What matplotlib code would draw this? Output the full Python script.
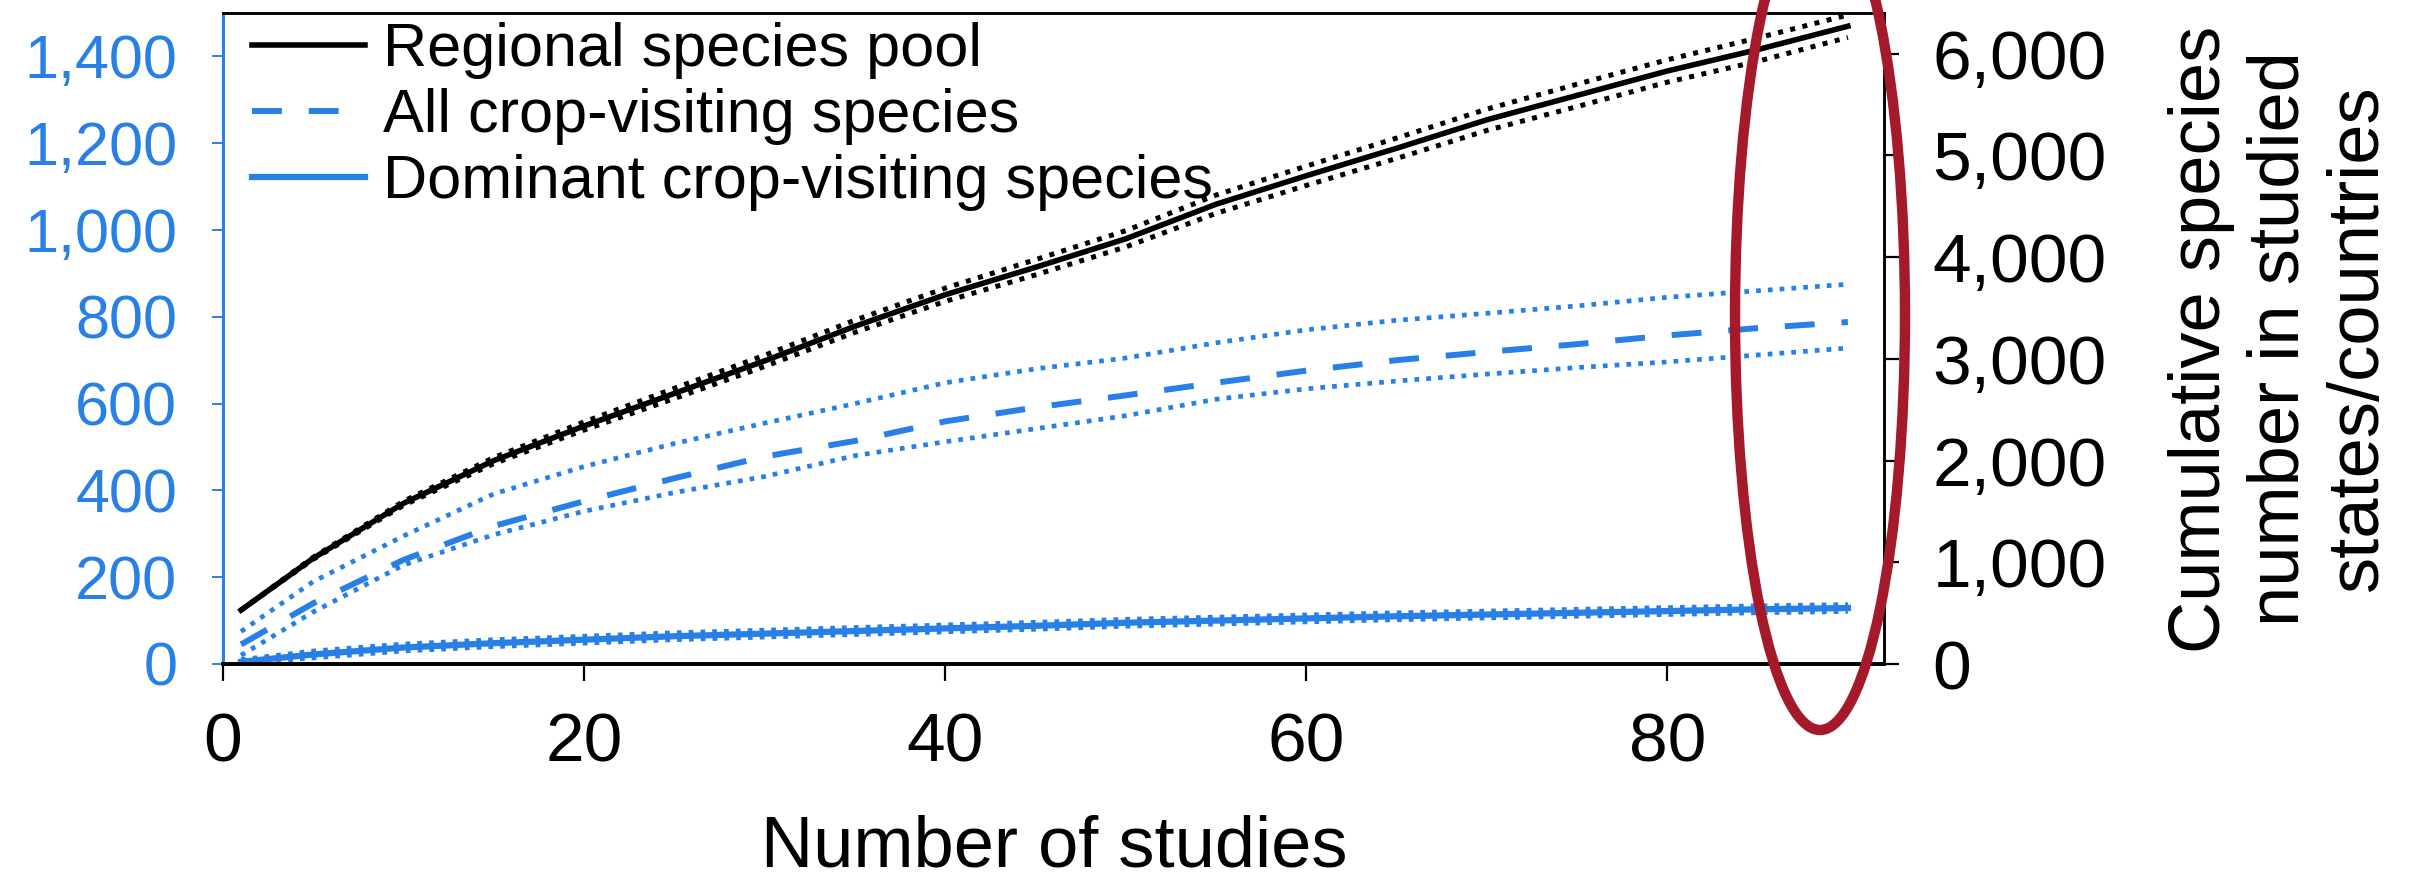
import matplotlib
matplotlib.use("Agg")
import matplotlib.pyplot as plt
from matplotlib.patches import Ellipse
from matplotlib.lines import Line2D

plt.rcParams['font.family'] = ['Liberation Sans', 'DejaVu Sans']

# Datos
estudios = [1, 5, 10, 15, 20, 25, 30, 35, 40, 45, 50, 55, 60, 65, 70, 75, 80, 85, 90]

# pool regional (eje derecho)
pool = [530, 1040, 1580, 2000, 2340, 2660, 2980, 3320, 3630, 3900, 4180, 4520, 4800, 5070, 5350, 5590, 5830, 6040, 6270]
pool_hi = [530, 1050, 1600, 2030, 2380, 2710, 3035, 3380, 3695, 3975, 4260, 4610, 4895, 5170, 5455, 5700, 5940, 6155, 6380]
pool_lo = [530, 1030, 1560, 1970, 2300, 2610, 2925, 3260, 3565, 3825, 4100, 4430, 4705, 4970, 5245, 5480, 5720, 5925, 6160]

# todas las especies visitantes (eje izquierdo)
todas = [45, 140, 240, 318, 375, 428, 478, 514, 559, 591, 619, 648, 676, 700, 719, 737, 757, 774, 788]
todas_hi = [75, 190, 295, 392, 455, 508, 555, 600, 648, 680, 705, 740, 770, 792, 808, 825, 845, 860, 875]
todas_lo = [20, 120, 228, 298, 352, 395, 432, 480, 512, 542, 572, 610, 634, 652, 668, 683, 696, 712, 728]

# especies dominantes (eje izquierdo)
dominantes = [5, 22, 38, 48, 56, 64, 70, 76, 82, 88, 95, 100, 105, 110, 114, 118, 122, 126, 129]
dom_hi = [10, 30, 46, 56, 64, 72, 78, 84, 90, 96, 103, 108, 113, 118, 122, 126, 130, 134, 137]
dom_lo = [1, 14, 30, 40, 48, 56, 62, 68, 74, 80, 87, 92, 97, 102, 106, 110, 114, 118, 121]

izq_ticks = [0, 200, 400, 600, 800, 1000, 1200, 1400]
der_ticks = [0, 1000, 2000, 3000, 4000, 5000, 6000]
x_ticks = [0, 20, 40, 60, 80]

azul = '#2880e6'
rojo = '#a51a2b'
punteado = (0, (1.0, 1.5))

fig = plt.figure(figsize=(24.16, 8.83), dpi=100)
ax = fig.add_axes([223 / 2416, 1 - 664 / 883, (1884 - 223) / 2416, (664 - 13) / 883])
ax2 = ax.twinx()

# series azules
ax.plot(estudios, todas_hi, color=azul, lw=3.4, ls=punteado)
ax.plot(estudios, todas_lo, color=azul, lw=3.4, ls=punteado)
ax.plot(estudios, todas, color=azul, lw=4.3, ls=(0, (5, 4.5)))
ax.plot(estudios, dom_hi, color=azul, lw=3.4, ls=punteado)
ax.plot(estudios, dom_lo, color=azul, lw=3.4, ls=punteado)
ax.plot(estudios, dominantes, color=azul, lw=4.5)

# pool regional
ax2.plot(estudios, pool_hi, color='black', lw=3.6, ls=punteado)
ax2.plot(estudios, pool_lo, color='black', lw=3.6, ls=punteado)
ax2.plot(estudios, pool, color='black', lw=4.0)

ax.set_xlim(0, 92)
ax.set_ylim(0, 1500)
ax2.set_ylim(0, 6400)

ax.set_xticks(x_ticks)
ax.set_xticklabels([str(v) for v in x_ticks])
ax.set_yticks(izq_ticks)
ax.set_yticklabels([f"{v:,}" for v in izq_ticks])
ax2.set_yticks(der_ticks)
ax2.set_yticklabels([f"{v:,}" for v in der_ticks])

ax.tick_params(axis='x', direction='out', length=12, width=1.6, pad=22, labelsize=50, colors='black')
ax.tick_params(axis='y', direction='out', length=8, width=1.4, pad=25, labelsize=44, colors=azul)
ax2.tick_params(axis='y', direction='out', length=11, width=1.6, pad=24, labelsize=50, colors='black')

for a in (ax, ax2):
    a.spines['left'].set_color(azul)
    a.spines['left'].set_linewidth(2.2)
    a.spines['bottom'].set_linewidth(2.6)
    a.spines['top'].set_linewidth(1.8)
    a.spines['right'].set_linewidth(1.8)
ax2.spines['left'].set_visible(False)

manijas = [
    Line2D([], [], color='black', lw=4.0),
    Line2D([], [], color=azul, lw=4.3, ls=(0, (5, 4.5))),
    Line2D([], [], color=azul, lw=4.5),
]
nombres = ['Regional species pool', 'All crop-visiting species', 'Dominant crop-visiting species']
fig.legend(manijas, nombres, loc='upper left', bbox_to_anchor=(252 / 2416, 1 - 22 / 883),
           frameon=False, fontsize=44, handlelength=1.85, handletextpad=0.3,
           labelspacing=0.15, borderpad=0, borderaxespad=0)

fig.text(1054 / 2416, 1 - 848 / 883, 'Number of studies', ha='center', va='center', fontsize=52)
fig.text(2280 / 2416, 1 - 339 / 883, 'Cumulative species\nnumber in studied\nstates/countries',
         ha='center', va='center', rotation=90, fontsize=52, linespacing=1.22, multialignment='center')

# marca roja de la figura original
fig.add_artist(Ellipse((1820 / 2416, 1 - 315 / 883), 170 / 2416, 830 / 883,
                       transform=fig.transFigure, fill=False, ec=rojo, lw=7.5, zorder=10))

fig.savefig('out.png', dpi=100)
